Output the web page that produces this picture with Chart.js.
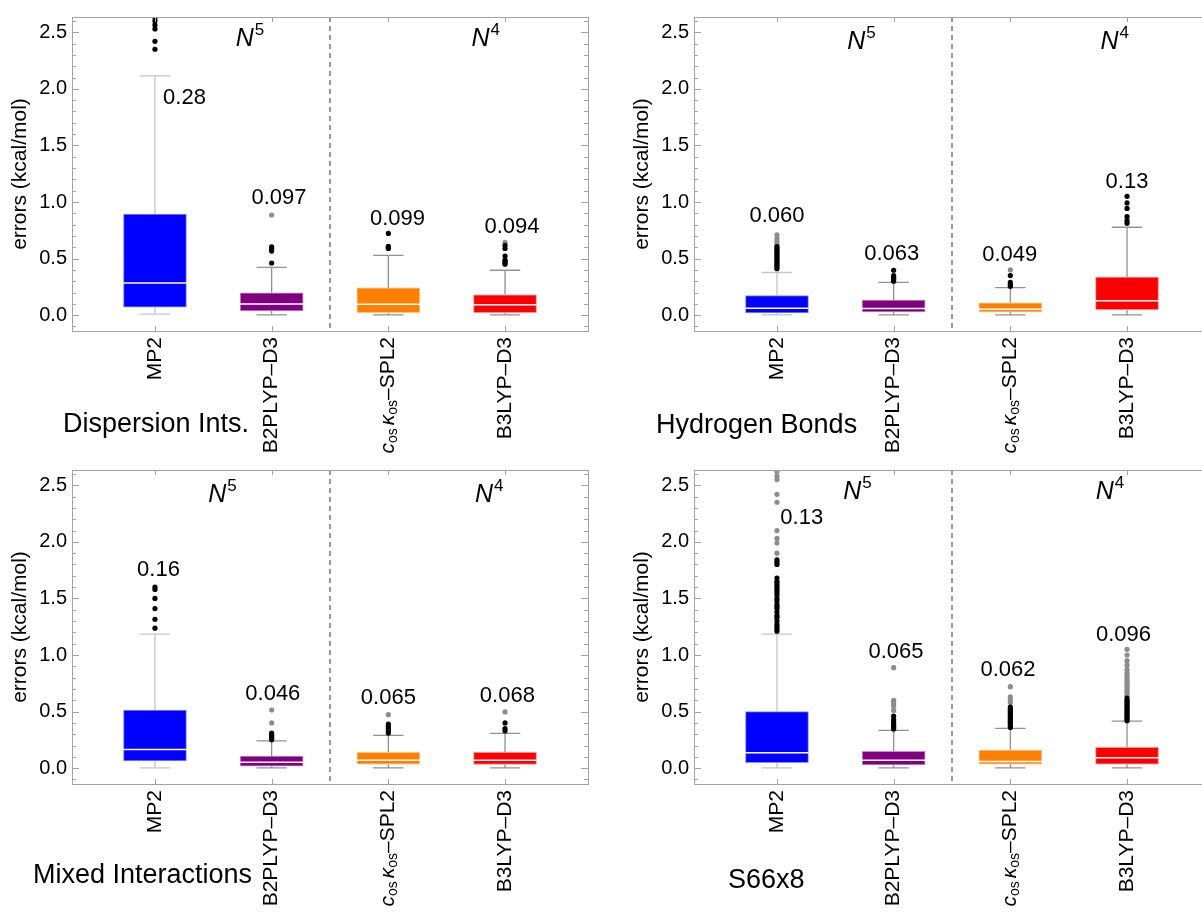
<!DOCTYPE html>
<html>
<head>
<meta charset="utf-8">
<script src="https://cdn.jsdelivr.net/npm/chart.js@4.4.0/dist/chart.umd.min.js"></script>
<style>
  html, body { margin: 0; padding: 0; background: #fff; overflow: hidden; width: 1202px; height: 913px; }
  canvas { position: absolute; }
</style>
</head>
<body>
<canvas id="c0" width="601" height="460" style="left:0px;top:0px"></canvas>
<canvas id="c1" width="601" height="460" style="left:622px;top:0px"></canvas>
<canvas id="c2" width="601" height="460" style="left:0px;top:453px"></canvas>
<canvas id="c3" width="601" height="460" style="left:622px;top:453px"></canvas>
<script>
// categories and panels
const methods = ["MP2", "B2PLYP–D3", "cosκos–SPL2", "B3LYP–D3"];
const panelNames = ["Dispersion Ints.", "Hydrogen Bonds", "Mixed Interactions", "S66x8"];
const scaling = ["5", "4"];

// box statistics, one row per panel (kcal/mol)
const whiskerLow = [
  [0.009, 0.003, 0.002, 0.002],
  [0.002, 0.002, 0.002, 0.002],
  [0.002, 0.002, 0.002, 0.002],
  [0.002, 0.002, 0.002, 0.002]
];
const q1 = [
  [0.070, 0.038, 0.023, 0.023],
  [0.020, 0.029, 0.029, 0.049],
  [0.064, 0.017, 0.035, 0.032],
  [0.049, 0.029, 0.035, 0.035]
];
const median = [
  [0.284, 0.099, 0.096, 0.093],
  [0.061, 0.058, 0.052, 0.128],
  [0.166, 0.052, 0.070, 0.070],
  [0.136, 0.070, 0.058, 0.093]
];
const q3 = [
  [0.893, 0.197, 0.241, 0.180],
  [0.174, 0.133, 0.110, 0.336],
  [0.514, 0.107, 0.139, 0.139],
  [0.499, 0.148, 0.160, 0.183]
];
const whiskerHigh = [
  [2.114, 0.423, 0.528, 0.397],
  [0.377, 0.290, 0.244, 0.777],
  [1.185, 0.241, 0.290, 0.308],
  [1.185, 0.334, 0.351, 0.415]
];

// outliers (black = near, gray = far)
const outliersBlack = [
  [[2.35, 2.42, 2.53, 2.565, 2.60, 2.63], [0.461, 0.566, 0.585, 0.603], [0.589, 0.600, 0.609, 0.722], [0.45, 0.464, 0.475, 0.487, 0.522, 0.589, 0.618]],
  [[0.41, 0.425, 0.44, 0.455, 0.47, 0.485, 0.50, 0.515, 0.53, 0.545, 0.56, 0.575, 0.59, 0.605], [0.30, 0.32, 0.335, 0.35, 0.397], [0.255, 0.27, 0.29, 0.35], [0.812, 0.835, 0.87, 0.943, 0.992, 1.05]],
  [[1.237, 1.315, 1.41, 1.50, 1.58, 1.60], [0.25, 0.265, 0.28, 0.295, 0.31], [0.31, 0.33, 0.35, 0.37, 0.39], [0.33, 0.35, 0.40]],
  [[1.21, 1.23, 1.25, 1.27, 1.30, 1.33, 1.35, 1.38, 1.41, 1.43, 1.45, 1.48, 1.50, 1.53, 1.55, 1.57, 1.59, 1.61, 1.63, 1.65, 1.68, 1.80, 1.82, 1.84],
   [0.345, 0.36, 0.375, 0.39, 0.41, 0.43, 0.46],
   [0.36, 0.375, 0.39, 0.405, 0.42, 0.435, 0.45, 0.465, 0.48, 0.495, 0.51, 0.525, 0.54],
   [0.42, 0.435, 0.45, 0.465, 0.48, 0.495, 0.51, 0.525, 0.54, 0.555, 0.57, 0.585, 0.60, 0.62]]
];
const outliersGray = [
  [[], [0.885], [], [0.644]],
  [[0.625, 0.65, 0.68, 0.71], [], [0.40], []],
  [[], [0.40, 0.514], [0.473], [0.497]],
  [[1.90, 1.99, 2.03, 2.10, 2.35, 2.42, 2.55, 2.58, 2.62],
   [0.51, 0.55, 0.575, 0.60, 0.888],
   [0.58, 0.61, 0.63, 0.72],
   [0.64, 0.66, 0.68, 0.70, 0.72, 0.74, 0.76, 0.78, 0.80, 0.82, 0.84, 0.87, 0.91, 0.95, 1.00, 1.05]]
];

// numbers printed above each box
const boxLabels = [
  ["0.28", "0.097", "0.099", "0.094"],
  ["0.060", "0.063", "0.049", "0.13"],
  ["0.16", "0.046", "0.065", "0.068"],
  ["0.13", "0.065", "0.062", "0.096"]
];

// where those numbers and the N^k marks sit (x in category units, y in kcal/mol)
const boxLabelAt = [
  [[0.253, 1.924], [1.063, 1.034], [2.078, 0.851], [3.06, 0.779]],
  [[0.0, 0.876], [0.984, 0.545], [1.995, 0.531], [3.0, 1.18]],
  [[0.03, 1.75], [1.01, 0.653], [2.0, 0.618], [3.02, 0.64]],
  [[0.212, 2.21], [1.02, 1.03], [1.98, 0.865], [2.97, 1.18]]
];
const scalingAt = [[0.81, 2.83, 46], [0.72, 2.89, 49], [0.575, 2.86, 49], [0.686, 2.85, 46]];
const nameAt = [[63, 432], [34, 433], [33, 430], [106, 435]];

const FONT = "'Liberation Sans', Arial, sans-serif";
const boxColors = ["#0000ff", "#800080", "#ff8000", "#ff0000"];
const boxEdges = ["#8c8cff", "#c58cc5", "#ffc28c", "#ff8c8c"];
const whiskerColors = ["#c6c6c6", "#919191", "#919191", "#919191"];
const frameColor = "#a3a3a3";
const CAP = 0.13;
const HALF = 0.27;

function drawRotated(ctx, x, top, parts) {
  // text reads bottom-to-top and ends at `top`
  ctx.save();
  ctx.translate(x, top);
  ctx.rotate(-Math.PI / 2);
  ctx.textBaseline = "middle";
  ctx.textAlign = "left";
  let total = 0;
  parts.forEach((pt) => { ctx.font = pt.font; total += ctx.measureText(pt.t).width + (pt.gap || 0); });
  let pos = -total;
  parts.forEach((pt) => {
    ctx.font = pt.font;
    ctx.fillText(pt.t, pos, pt.dy || 0);
    pos += ctx.measureText(pt.t).width + (pt.gap || 0);
  });
  ctx.restore();
}

function decorPlugin(p) {
  return {
    id: "decor" + p,
    beforeDatasetsDraw(chart) {
      const { ctx, chartArea: a, scales: { x } } = chart;
      const sx = Math.round(x.getPixelForValue(1.5));
      ctx.save();
      ctx.strokeStyle = "#9a9a9a";
      ctx.lineWidth = 2;
      ctx.setLineDash([5, 4]);
      ctx.beginPath();
      ctx.moveTo(sx, a.top);
      ctx.lineTo(sx, a.bottom);
      ctx.stroke();
      ctx.restore();
    },
    afterDraw(chart) {
      const { ctx, chartArea: a, scales: { x, y } } = chart;
      ctx.save();
      // frame
      ctx.strokeStyle = frameColor;
      ctx.lineWidth = 1;
      ctx.strokeRect(a.left + 0.5, a.top + 0.5, a.right - a.left, a.bottom - a.top);
      // inward ticks
      ctx.beginPath();
      for (let k = -1; k <= 26; k++) {
        const yy = Math.round(y.getPixelForValue(k / 10)) + 0.5;
        const len = k % 5 === 0 ? 7 : 4;
        ctx.moveTo(a.left, yy); ctx.lineTo(a.left + len, yy);
        ctx.moveTo(a.right, yy); ctx.lineTo(a.right - len, yy);
      }
      methods.forEach((m, i) => {
        const xx = Math.round(x.getPixelForValue(i)) + 0.5;
        ctx.moveTo(xx, a.top); ctx.lineTo(xx, a.top + 5);
        ctx.moveTo(xx, a.bottom); ctx.lineTo(xx, a.bottom - 5);
      });
      ctx.stroke();

      // numbers above boxes
      ctx.fillStyle = "#000";
      ctx.font = "22px " + FONT;
      ctx.textAlign = "center";
      ctx.textBaseline = "middle";
      boxLabels[p].forEach((t, i) => {
        ctx.fillText(t, x.getPixelForValue(boxLabelAt[p][i][0]), y.getPixelForValue(boxLabelAt[p][i][1]));
      });

      // N^5 / N^4
      ctx.textBaseline = "alphabetic";
      ctx.textAlign = "left";
      scaling.forEach((s, j) => {
        const cx = x.getPixelForValue(scalingAt[p][j]);
        const base = scalingAt[p][2];
        ctx.font = "italic 25px " + FONT;
        const wN = ctx.measureText("N").width;
        ctx.font = "17px " + FONT;
        const wS = ctx.measureText(s).width;
        const x0 = cx - (wN + wS) / 2;
        ctx.font = "italic 25px " + FONT;
        ctx.fillText("N", x0, base);
        ctx.font = "17px " + FONT;
        ctx.fillText(s, x0 + wN + 1, base - 11);
      });

      // panel name
      ctx.font = "27px " + FONT;
      ctx.fillText(panelNames[p], nameAt[p][0], nameAt[p][1]);

      // category labels
      const top = a.bottom + 6;
      const big = "21px " + FONT;
      const bigIt = "italic 21px " + FONT;
      const small = "14px " + FONT;
      methods.forEach((m, i) => {
        const xx = x.getPixelForValue(i);
        if (i === 2) {
          drawRotated(ctx, xx, top, [
            { t: "c", font: bigIt },
            { t: "os", font: small, dy: 5, gap: 3 },
            { t: "κ", font: bigIt },
            { t: "os", font: small, dy: 5 },
            { t: "–SPL2", font: big }
          ]);
        } else {
          drawRotated(ctx, xx, top, [{ t: m, font: big }]);
        }
      });
      ctx.restore();
    }
  };
}

function buildDatasets(p) {
  const ds = [];
  const black = [];
  const gray = [];
  methods.forEach((m, i) => {
    outliersBlack[p][i].forEach((v) => black.push({ x: i, y: v }));
    outliersGray[p][i].forEach((v) => gray.push({ x: i, y: v }));
  });
  ds.push({ type: "line", data: black, showLine: false, pointRadius: 2.6, pointBackgroundColor: "#000", pointBorderWidth: 0, order: 0 });
  ds.push({ type: "line", data: gray, showLine: false, pointRadius: 2.6, pointBackgroundColor: "#8c8c8c", pointBorderWidth: 0, order: 0 });

  const med = [];
  methods.forEach((m, i) => {
    med.push({ x: i - HALF, y: median[p][i] }, { x: i + HALF, y: median[p][i] }, { x: i, y: null });
  });
  ds.push({ type: "line", data: med, borderColor: "#ffffff", borderWidth: 1.5, pointRadius: 0, spanGaps: false, order: 1 });

  ds.push({
    type: "bar",
    data: methods.map((m, i) => ({ x: i, y: [q1[p][i], q3[p][i]] })),
    backgroundColor: boxColors,
    borderColor: boxEdges,
    borderWidth: 1,
    borderSkipped: false,
    barThickness: 63,
    order: 2
  });

  methods.forEach((m, i) => {
    const lo = whiskerLow[p][i];
    const hi = whiskerHigh[p][i];
    ds.push({
      type: "line",
      data: [
        { x: i, y: lo }, { x: i, y: q1[p][i] }, { x: i, y: null },
        { x: i, y: q3[p][i] }, { x: i, y: hi }, { x: i, y: null },
        { x: i - CAP, y: hi }, { x: i + CAP, y: hi }, { x: i, y: null },
        { x: i - CAP, y: lo }, { x: i + CAP, y: lo }
      ],
      borderColor: whiskerColors[i],
      borderWidth: 1.3,
      pointRadius: 0,
      spanGaps: false,
      order: 3
    });
  });
  return ds;
}

for (let p = 0; p < 4; p++) {
  new Chart(document.getElementById("c" + p).getContext("2d"), {
    type: "bar",
    data: { datasets: buildDatasets(p) },
    options: {
      responsive: false,
      animation: false,
      devicePixelRatio: 1,
      events: [],
      layout: { padding: { left: 0, top: 13, right: 13, bottom: 129 } },
      plugins: { legend: { display: false }, tooltip: { enabled: false } },
      scales: {
        x: {
          type: "linear",
          display: false,
          offset: false,
          min: -0.711,
          max: 3.711
        },
        y: {
          min: -0.14,
          max: 2.635,
          afterFit: (s) => { s.width = 72; },
          grid: { display: false, drawTicks: false },
          border: { display: false },
          ticks: {
            stepSize: 0.5,
            includeBounds: false,
            padding: 5,
            color: "#000",
            font: { family: FONT, size: 20 },
            callback: (v) => v.toFixed(1)
          },
          title: {
            display: true,
            text: "errors (kcal/mol)",
            color: "#000",
            font: { family: FONT, size: 21 },
            padding: { top: 8, bottom: 0 }
          }
        }
      }
    },
    plugins: [decorPlugin(p)]
  });
}
</script>
</body>
</html>
